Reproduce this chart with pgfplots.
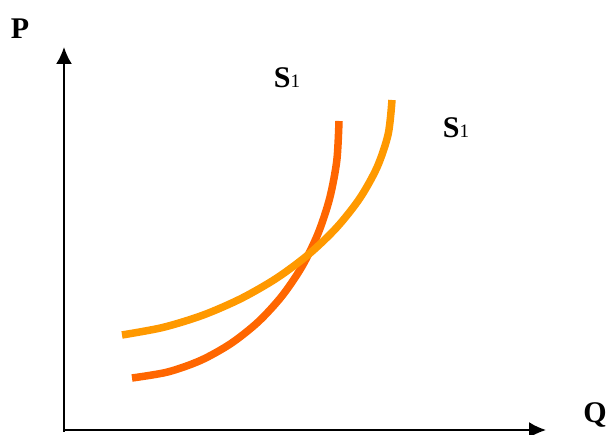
\documentclass[border=0pt]{standalone}
\usepackage{pgfplots}
\pgfplotsset{compat=1.18}
\usetikzlibrary{arrows.meta}
\usepackage{fontspec}
\setmainfont{Liberation Serif}
\definecolor{supplyA}{HTML}{FF6600}
\definecolor{supplyB}{HTML}{FF9900}
\begin{document}
\begin{tikzpicture}
\begin{axis}[
  name=ax,
  width=611pt, height=435pt, scale only axis,
  xmin=0, xmax=611, ymin=0, ymax=435,
  hide axis, clip=false,
]
% axes
\draw[line width=2pt, -{Latex[length=17pt,width=16pt]}] (axis cs:64,3) -- (axis cs:64,388);
\draw[line width=2pt, -{Latex[length=17pt,width=16pt]}] (axis cs:63,5) -- (axis cs:546,5);
\node[inner sep=0pt, font=\fontsize{30}{30}\selectfont\bfseries] at (axis cs:20,406) {P};
\node[inner sep=0pt, font=\fontsize{30}{30}\selectfont\bfseries] at (axis cs:595,20) {Q};
% steeper supply curve
\addplot[color=supplyA, line width=7.5pt, smooth, tension=0.5] coordinates {
  (132,57) (167.7,63) (200.9,74.7) (231.1,91.6) (258.3,113.2) (282,139)
  (302,168.5) (318,201.3) (329.7,236.8) (336.8,274.5) (339,314)
};
% flatter supply curve
\addplot[color=supplyB, line width=7.5pt, smooth, tension=0.5] coordinates {
  (122,100) (163.1,107.6) (203.1,119.9) (241.2,136.5) (276.7,156.9) (308.75,180.75)
  (336.7,207.5) (359.8,236.7) (377.2,268) (388.2,301) (392,335)
};
\node[inner sep=0pt, font=\fontsize{30}{30}\selectfont] at (axis cs:287,357) {\textbf{S}\fontsize{19}{19}\selectfont 1};
\node[inner sep=0pt, font=\fontsize{30}{30}\selectfont] at (axis cs:456,307) {\textbf{S}\fontsize{19}{19}\selectfont 1};
\end{axis}
\pgfresetboundingbox
\path[use as bounding box] (ax.south west) rectangle (ax.north east);
\end{tikzpicture}
\end{document}
